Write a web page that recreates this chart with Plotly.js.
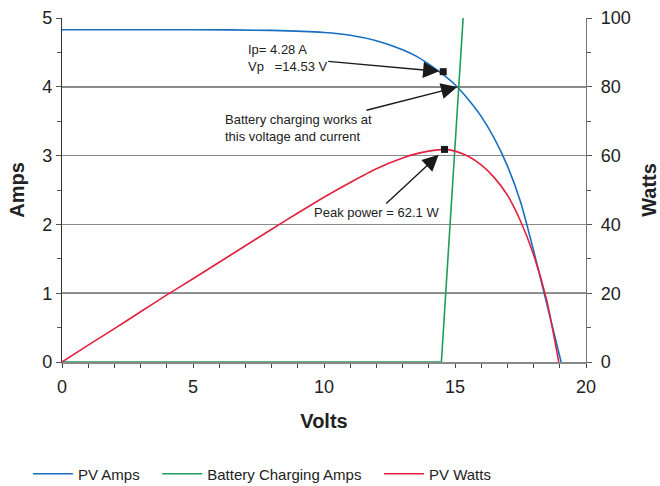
<!DOCTYPE html>
<html>
<head>
<meta charset="utf-8">
<script src="https://cdn.plot.ly/plotly-3.0.1.min.js"></script>
<style>html,body{margin:0;padding:0;background:#fff}#chart{width:660px;height:486px}</style>
</head>
<body>
<div id="chart"></div>
<script>
// PV Amps (V, A)
const ampsV = [0, 5, 8, 10, 11, 12, 13, 13.5, 14, 14.5, 15, 15.5, 16, 16.5, 17, 17.5, 18, 18.5, 19.05];
const ampsA = [4.83, 4.83, 4.82, 4.79, 4.75, 4.67, 4.54, 4.45, 4.33, 4.19, 4.03, 3.82, 3.57, 3.25, 2.85, 2.33, 1.62, 0.85, 0];
// Battery charging amps (V, A)
const battV = [0, 14.48, 15.31];
const battA = [0, 0, 5];
// PV Watts (V, W)
const wattsV = [0, 1, 2, 3, 4, 5, 6, 7, 8, 9, 10, 11, 12, 13, 13.5, 14, 14.6, 15, 15.5, 16, 16.5, 17, 17.5, 18, 18.5, 18.96];
const wattsW = [0, 4.9, 9.7, 14.6, 19.5, 24.2, 29.0, 33.8, 38.6, 43.3, 47.9, 52.2, 56.2, 59.3, 60.5, 61.3, 61.8, 61.3, 59.8, 57.3, 53.6, 48.5, 41.0, 31.2, 18.0, 0];
// Marked points
const peakV = [14.55];
const peakA = [4.22];
const peakWV = [14.6];
const peakW = [61.8];
const crossV = 15.12, crossA = 4.0;
const xTicks = [0, 5, 10, 15, 20];
const ampTicks = [0, 1, 2, 3, 4, 5];
const wattTicks = [0, 20, 40, 60, 80, 100];
const seriesNames = ['PV Amps', 'Battery Charging Amps', 'PV Watts'];

const FONT = 'Liberation Sans, Arial, Helvetica, sans-serif';
const BLUE = '#176fc1', GREEN = '#1f9d5c', RED = '#e2213f';
const PAD = '\u00a0\u00a0\u00a0';

const traces = [
  {x: ampsV, y: ampsA, name: seriesNames[0] + PAD, type: 'scatter', mode: 'lines', line: {color: BLUE, width: 1.6, shape: 'spline', smoothing: 0.6}, yaxis: 'y'},
  {x: battV, y: battA, name: seriesNames[1] + PAD, type: 'scatter', mode: 'lines', line: {color: GREEN, width: 1.6}, yaxis: 'y'},
  {x: wattsV, y: wattsW, name: seriesNames[2], type: 'scatter', mode: 'lines', line: {color: RED, width: 1.6, shape: 'spline', smoothing: 0.6}, yaxis: 'y2'},
  {x: peakV, y: peakA, type: 'scatter', mode: 'markers', marker: {symbol: 'square', size: 7, color: '#1a1a1a'}, showlegend: false, yaxis: 'y', hoverinfo: 'skip'},
  {x: peakWV, y: peakW, type: 'scatter', mode: 'markers', marker: {symbol: 'square', size: 7, color: '#1a1a1a'}, showlegend: false, yaxis: 'y2', hoverinfo: 'skip'}
];

const annFont = {family: FONT, size: 13, color: '#222'};
const arrow = {showarrow: true, arrowhead: 2, arrowsize: 2.3, arrowwidth: 1.4, arrowcolor: '#1a1a1a', align: 'left', font: annFont};

const layout = {
  width: 660, height: 486,
  margin: {l: 62, r: 74, t: 18, b: 124, pad: 0, autoexpand: false},
  paper_bgcolor: '#fff', plot_bgcolor: '#fff',
  font: {family: FONT, color: '#222'},
  showlegend: true,
  legend: {orientation: 'h', xref: 'container', yref: 'container', x: 28 / 660, xanchor: 'left', y: (486 - 474) / 486, yanchor: 'middle',
           itemwidth: 40, font: {family: FONT, size: 15, color: '#222'}, traceorder: 'normal'},
  xaxis: {
    range: [0, 20], tickvals: xTicks, ticks: 'outside', ticklen: 4, tickcolor: '#444', automargin: false,
    minor: {dtick: 1, ticks: 'outside', ticklen: 4, tickcolor: '#444'},
    showline: true, linecolor: '#888', linewidth: 1.5, showgrid: false, zeroline: false,
    tickfont: {family: FONT, size: 18, color: '#222'},
    ticklabelstandoff: 4,
    title: {text: '<b>Volts</b>', font: {family: FONT, size: 20, color: '#222'}, standoff: 18}
  },
  yaxis: {
    range: [0, 5], tickvals: ampTicks, ticks: 'outside', ticklen: 5, tickcolor: '#555', automargin: false,
    minor: {dtick: 0.5, ticks: 'outside', ticklen: 4, tickcolor: '#555', showgrid: false},
    showline: true, linecolor: '#333', linewidth: 1.2, showgrid: true, gridcolor: '#8a8a8a', gridwidth: 1.4, zeroline: false,
    tickfont: {family: FONT, size: 18, color: '#222'},
    title: {text: '<b>Amps</b>', font: {family: FONT, size: 20, color: '#222'}, standoff: 12}
  },
  yaxis2: {
    range: [0, 100], tickvals: wattTicks, overlaying: 'y', side: 'right', ticks: 'outside', ticklen: 5, tickcolor: '#555', automargin: false,
    minor: {dtick: 10, ticks: 'outside', ticklen: 4, tickcolor: '#555', showgrid: false},
    showline: true, linecolor: '#777', linewidth: 1.2, showgrid: false, zeroline: false,
    tickfont: {family: FONT, size: 18, color: '#222'},
    ticklabelstandoff: 5,
    title: {text: '<b>Watts</b>', font: {family: FONT, size: 20, color: '#222'}, standoff: 12}
  },
  shapes: [
    {type: 'line', xref: 'paper', yref: 'y', x0: 0, x1: 1, y0: 1, y1: 1, line: {color: '#2a2a2a', width: 1.3}, layer: 'below'}
  ],
  annotations: [
    Object.assign({}, arrow, {x: peakV[0], y: peakA[0], xref: 'x', yref: 'y', text: 'Ip= 4.28 A<br>Vp   =14.53 V', ax: -156, ay: -14, standoff: 4}),
    Object.assign({}, arrow, {x: crossV, y: crossA, xref: 'x', yref: 'y', text: 'Battery charging works at<br>this voltage and current', ax: -160, ay: 41, standoff: 1}),
    Object.assign({}, arrow, {x: peakWV[0], y: peakW[0], xref: 'x', yref: 'y2', text: 'Peak power = 62.1 W', ax: -68, ay: 63, standoff: 8})
  ]
};

Plotly.newPlot('chart', traces, layout, {displayModeBar: false, staticPlot: true});
</script>
</body>
</html>
